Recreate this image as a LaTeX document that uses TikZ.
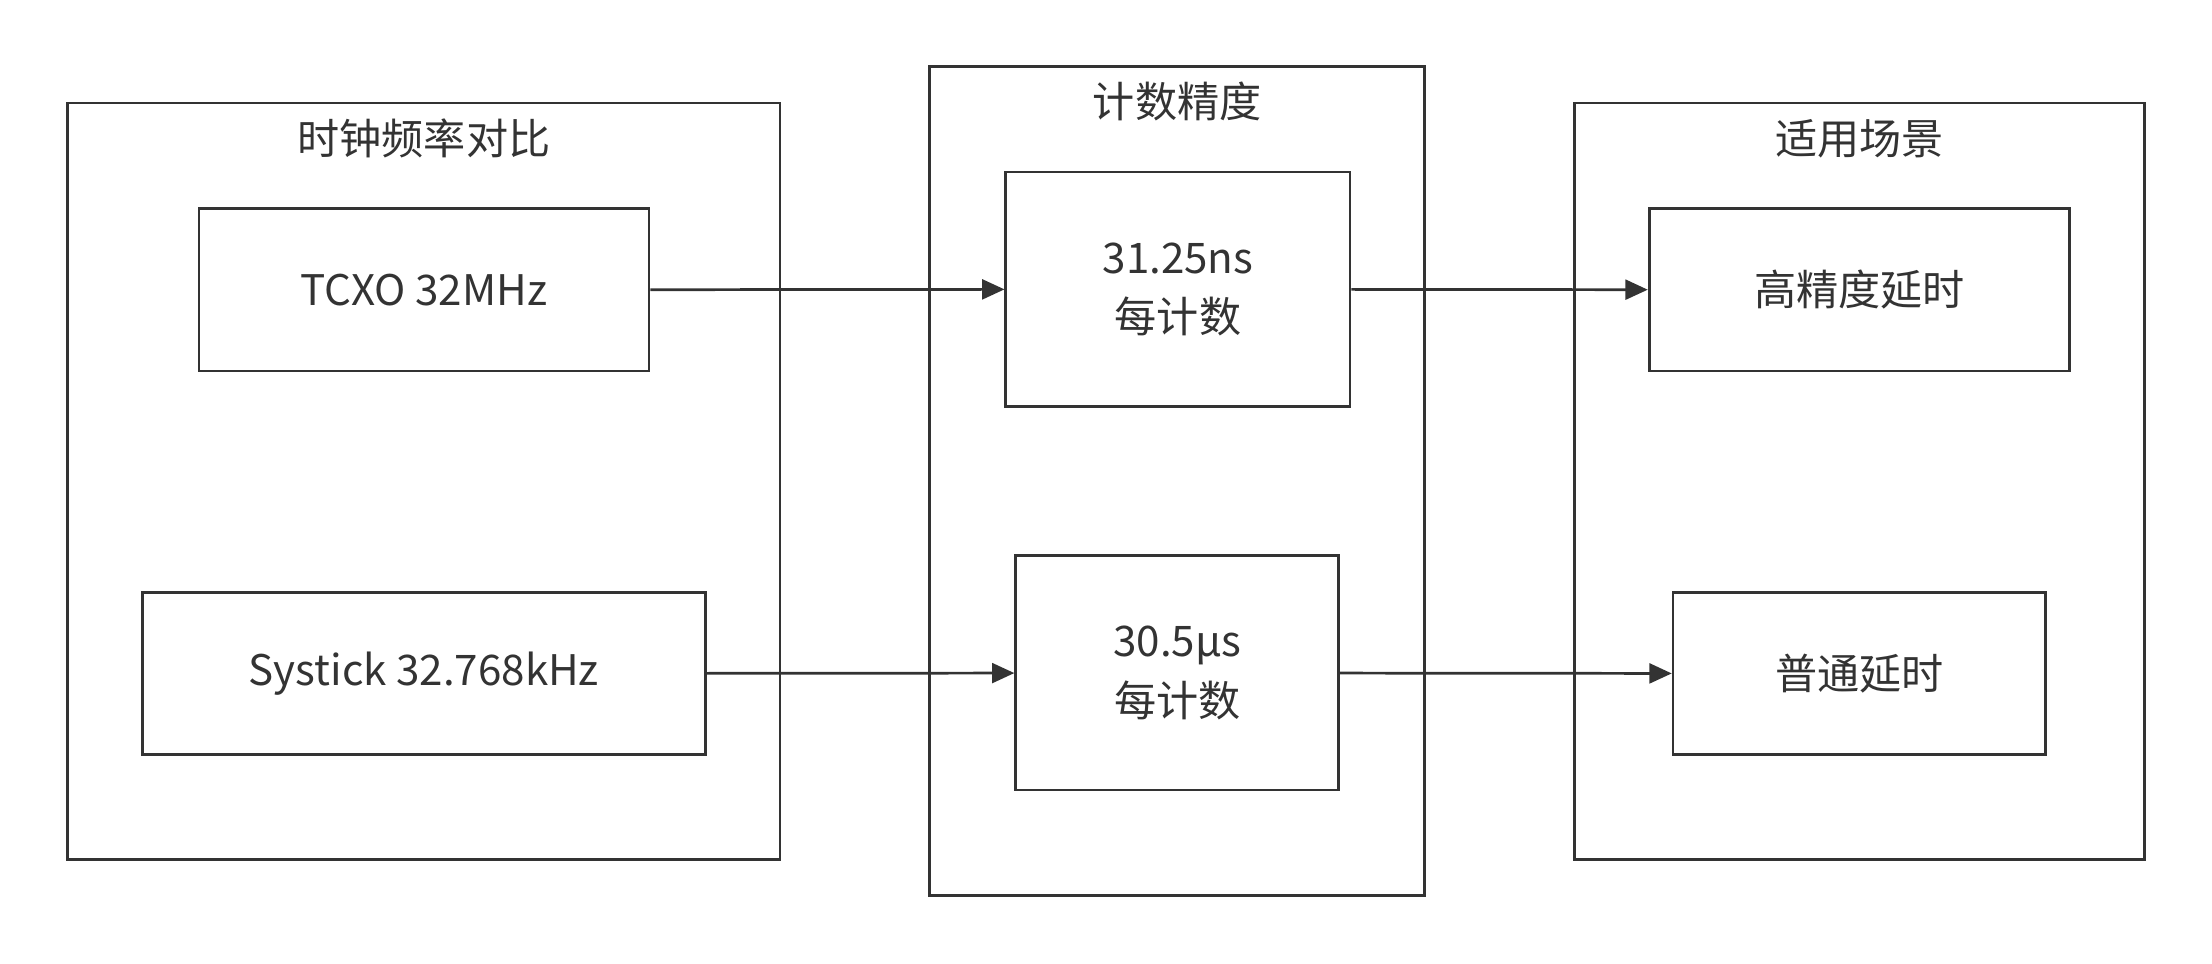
\documentclass[tikz,border=0pt]{standalone}
\usepackage{fontspec}
\setmainfont{Noto Sans CJK SC}
\usetikzlibrary{arrows.meta,positioning}
\definecolor{linie}{RGB}{51,51,51}
\tikzset{
  box/.style={draw=linie,line width=1.1pt,rectangle,inner sep=0pt,align=center,font=\fontsize{17}{24}\selectfont,text=linie},
  titel/.style={font=\fontsize{17}{20}\selectfont,text=linie},
  pfeil/.style={draw=linie,line width=1.1pt,-{Triangle[length=9pt,width=8pt]}}
}
\begin{document}
\begin{tikzpicture}[x=0.02cm,y=0.02cm,yscale=-1]
        \useasboundingbox (0,0) rectangle (1568,683);
        % Gruppen
		\node[box,minimum width=505*0.02cm,minimum height=536*0.02cm] (G1) at (300.5,341) {};
		\node[box,minimum width=351*0.02cm,minimum height=588*0.02cm] (G2) at (834.5,341) {};
		\node[box,minimum width=404*0.02cm,minimum height=536*0.02cm] (G3) at (1318,341) {};
		\node[titel] (T1) at (300.5,98) {时钟频率对比};
		\node[titel] (T2) at (834.5,72) {计数精度};
		\node[titel] (T3) at (1318,98) {适用场景};
        % Knoten
		\node[box,minimum width=319*0.02cm,minimum height=115*0.02cm] (TCXO) at (300.5,205.5) {TCXO 32MHz};
		\node[box,minimum width=399*0.02cm,minimum height=115*0.02cm] (Sys) at (300.5,477.5) {Systick 32.768kHz};
		\node[box,minimum width=244*0.02cm,minimum height=166*0.02cm] (NS) at (835,205) {31.25ns\\每计数};
		\node[box,minimum width=229*0.02cm,minimum height=166*0.02cm] (US) at (834.5,477) {30.5μs\\每计数};
		\node[box,minimum width=298*0.02cm,minimum height=115*0.02cm] (HP) at (1318,205.5) {高精度延时};
		\node[box,minimum width=264*0.02cm,minimum height=115*0.02cm] (PT) at (1318,477.5) {普通延时};
        % Pfeile
		\draw[pfeil] (TCXO) -- (NS);
		\draw[pfeil] (NS) -- (HP);
		\draw[pfeil] (Sys) -- (US);
		\draw[pfeil] (US) -- (PT);
\end{tikzpicture}
\end{document}
